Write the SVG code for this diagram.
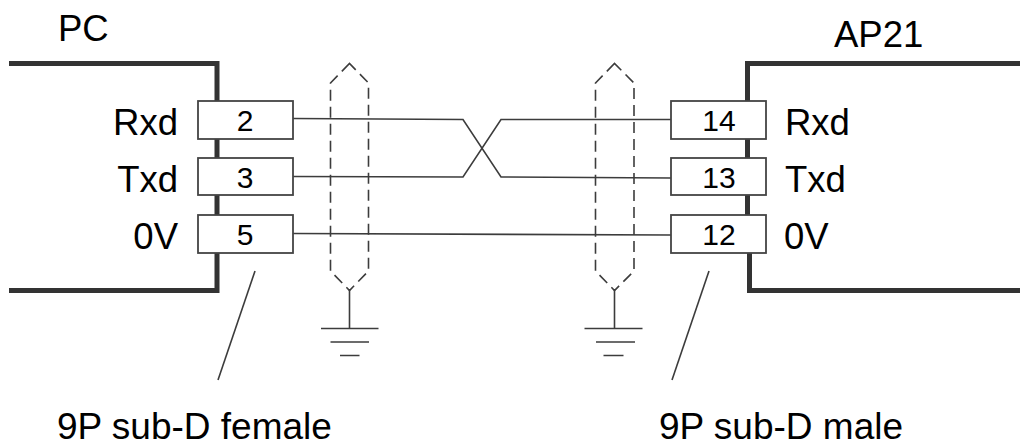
<svg xmlns="http://www.w3.org/2000/svg" width="1020" height="443" viewBox="0 0 1020 443">
<style>
text{font-family:"Liberation Sans",Arial,sans-serif;fill:#000}
.l{font-size:36.5px}
.b{font-size:37px}
.n{font-size:30px;text-anchor:middle}
.e{text-anchor:end}
.body{fill:none;stroke:#333;stroke-width:5}
.pin{fill:#fff;stroke:#444;stroke-width:1.8}
.w{fill:none;stroke:#3c3c3c;stroke-width:1.6}
.s{fill:none;stroke:#3c3c3c;stroke-width:1.6;stroke-dasharray:11 6}
</style>
<g id="pc">
<path class="body" d="M9 63.500H217V290.500H9"/>
<text class="l" x="58" y="41">PC</text>
<text class="l e" x="178" y="135">Rxd</text>
<text class="l e" x="178" y="192">Txd</text>
<text class="l e" x="178" y="249">0V</text>
</g>
<g id="ap21">
<path class="body" d="M1020 63.500H747.500V101M747.500 139V158M747.500 195V215M749.500 253V290.500H1020"/>
<text class="l" x="834" y="47">AP21</text>
<text class="l" x="785" y="135">Rxd</text>
<text class="l" x="785" y="192">Txd</text>
<text class="l" x="784" y="249">0V</text>
</g>
<g id="connectors">
<path class="w" d="M293 118.500L463 119.500L501 177L671 178"/>
<path class="w" d="M293 176.500L463 177L501 119.500H671"/>
<path class="w" d="M293 233.500L671 235"/>
<path class="w" d="M255 271L218 380"/>
<path class="w" d="M709 271L672 380"/>
</g>
<g id="pin-2"><rect class="pin" x="198" y="101" width="95" height="38"/><text class="n" x="245" y="131">2</text></g>
<g id="pin-3"><rect class="pin" x="198" y="158" width="95" height="37"/><text class="n" x="245" y="188">3</text></g>
<g id="pin-5"><rect class="pin" x="198" y="215" width="95" height="38"/><text class="n" x="245" y="245">5</text></g>
<g id="pin-14"><rect class="pin" x="671" y="101" width="95" height="38"/><text class="n" x="719" y="131">14</text></g>
<g id="pin-13"><rect class="pin" x="671" y="158" width="95" height="37"/><text class="n" x="719" y="188">13</text></g>
<g id="pin-12"><rect class="pin" x="671" y="215" width="95" height="38"/><text class="n" x="719" y="245">12</text></g>
<g id="shield-left">
<path class="s" d="M349.500 63.500L330.500 83V271L349.500 290.500L368.500 271V83Z"/>
<path class="w" d="M349.500 290V328M321 328.500H378.500M330.500 342H369M340 355.500H359.500"/>
</g>
<g id="shield-right">
<path class="s" d="M614.500 63.500L595.500 83V271L614.500 290.500L634 271V83Z"/>
<path class="w" d="M614.500 290V328M584.500 328.500H642.500M596 342H635M603.500 355.500H623.500"/>
</g>
<g id="label-female"><text class="b" x="57" y="439">9P sub-D female</text></g>
<g id="label-male"><text class="b" x="659" y="439">9P sub-D male</text></g>
</svg>
